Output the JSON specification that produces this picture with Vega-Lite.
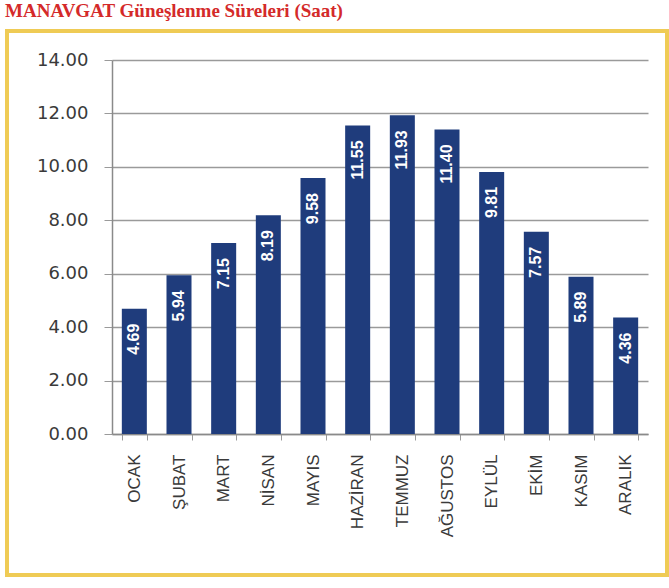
{
  "$schema": "https://vega.github.io/schema/vega-lite/v6.json",
  "width": 660,
  "height": 544,
  "autosize": {"type": "none"},
  "padding": {"left": 7, "top": 31, "right": 2, "bottom": 13},
  "background": "white",
  "title": {
    "text": "MANAVGAT Güneşlenme Süreleri (Saat)",
    "anchor": "start",
    "frame": "group",
    "font": "Liberation Serif",
    "fontSize": 19,
    "fontWeight": "bold",
    "color": "#D42A2A",
    "baseline": "alphabetic",
    "offset": -5,
    "dx": -2
  },
  "config": {
    "view": {"stroke": "#EFCB55", "strokeWidth": 4, "fill": "white"}
  },
  "data": {
    "values": [
      {"ay": "OCAK", "saat": 4.69},
      {"ay": "ŞUBAT", "saat": 5.94},
      {"ay": "MART", "saat": 7.15},
      {"ay": "NİSAN", "saat": 8.19},
      {"ay": "MAYIS", "saat": 9.58},
      {"ay": "HAZİRAN", "saat": 11.55},
      {"ay": "TEMMUZ", "saat": 11.93},
      {"ay": "AĞUSTOS", "saat": 11.40},
      {"ay": "EYLÜL", "saat": 9.81},
      {"ay": "EKİM", "saat": 7.57},
      {"ay": "KASIM", "saat": 5.89},
      {"ay": "ARALIK", "saat": 4.36}
    ]
  },
  "encoding": {
    "x": {
      "field": "ay",
      "type": "nominal",
      "sort": null,
      "scale": {"range": [105, 641], "paddingInner": 0.44, "paddingOuter": 0.22},
      "axis": {
        "title": null,
        "offset": -141,
        "labelAngle": -90,
        "labelAlign": "right",
        "labelBaseline": "middle",
        "labelFont": "Liberation Sans",
        "labelFontSize": 17,
        "labelColor": "#3a3a3a",
        "labelPadding": 14,
        "tickBand": "extent",
        "tickSize": 6,
        "tickColor": "#9a9a9a",
        "domainColor": "#8a8a8a",
        "domainWidth": 1.5,
        "grid": false
      }
    },
    "y": {
      "field": "saat",
      "type": "quantitative",
      "scale": {"domain": [0, 14], "nice": false, "range": [403, 29]},
      "axis": {
        "title": null,
        "offset": -105,
        "values": [0, 2, 4, 6, 8, 10, 12, 14],
        "format": ".2f",
        "labelFont": "DejaVu Sans",
        "labelFontSize": 18,
        "labelColor": "#3a3a3a",
        "labelPadding": 16,
        "tickSize": 8,
        "tickColor": "#9a9a9a",
        "domainColor": "#8a8a8a",
        "domainWidth": 1.5,
        "grid": true,
        "gridColor": "#9a9a9a",
        "gridWidth": 1.5
      }
    }
  },
  "layer": [
    {"mark": {"type": "bar", "color": "#1F3C7C"}},
    {
      "mark": {
        "type": "text",
        "angle": 270,
        "align": "right",
        "baseline": "middle",
        "dx": -15,
        "color": "white",
        "font": "Liberation Sans",
        "fontSize": 16,
        "fontWeight": "bold"
      },
      "encoding": {
        "text": {"field": "saat", "type": "quantitative", "format": ".2f"}
      }
    }
  ]
}
